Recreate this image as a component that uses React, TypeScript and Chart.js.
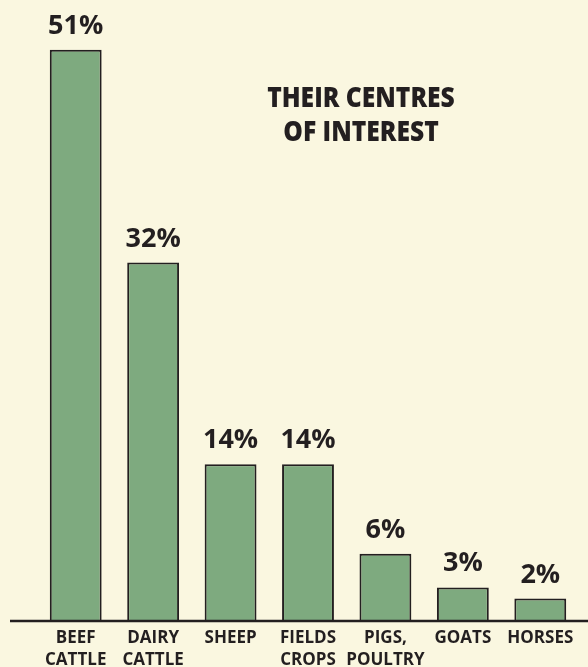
import React, { useEffect, useRef } from "react";
import { Chart, registerables } from "chart.js";

Chart.register(...registerables);

const categories: string[][] = [
  ["BEEF", "CATTLE"],
  ["DAIRY", "CATTLE"],
  ["SHEEP"],
  ["FIELDS", "CROPS"],
  ["PIGS,", "POULTRY"],
  ["GOATS"],
  ["HORSES"],
];
const values: number[] = [51, 32, 14, 14, 6, 3, 2];
const titleLines: string[] = ["THEIR CENTRES", "OF INTEREST"];

const BG = "#faf7e0";
const INK = "#231f20";
const GREEN = "#7eaa7f";

const overlay = {
  id: "overlay",
  beforeDraw(chart: any) {
    const { ctx, width, height } = chart;
    ctx.save();
    ctx.fillStyle = BG;
    ctx.fillRect(0, 0, width, height);
    ctx.restore();
  },
  afterDatasetsDraw(chart: any) {
    const { ctx, chartArea } = chart;
    ctx.save();
    // baseline
    ctx.strokeStyle = INK;
    ctx.lineWidth = 2.5;
    ctx.beginPath();
    ctx.moveTo(10, chartArea.bottom);
    ctx.lineTo(chart.width, chartArea.bottom);
    ctx.stroke();
    // value labels
    const meta = chart.getDatasetMeta(0);
    ctx.fillStyle = INK;
    ctx.font = "bold 27px 'Open Sans', sans-serif";
    ctx.textAlign = "center";
    ctx.textBaseline = "alphabetic";
    meta.data.forEach((bar: any, i: number) => {
      ctx.fillText(values[i] + "%", bar.x, bar.y - 16);
    });
    // title (condensed)
    ctx.font = "800 28px 'Open Sans', sans-serif";
    ctx.textBaseline = "alphabetic";
    const sx = 0.88;
    ctx.save();
    ctx.translate(361, 0);
    ctx.scale(sx, 1);
    ctx.fillText(titleLines[0], 0, 107);
    ctx.fillText(titleLines[1], 0, 141);
    ctx.restore();
    ctx.restore();
  },
};

export default function App() {
  const ref = useRef<HTMLCanvasElement>(null);
  useEffect(() => {
    document.body.style.margin = "0";
    document.body.style.background = BG;
    const chart = new Chart(ref.current!, {
      type: "bar",
      data: {
        labels: categories,
        datasets: [
          {
            data: values,
            backgroundColor: GREEN,
            borderColor: INK,
            borderWidth: 2,
            barPercentage: 0.67,
            categoryPercentage: 1,
          },
        ],
      },
      options: {
        animation: false,
        responsive: false,
        maintainAspectRatio: false,
        layout: { padding: { top: 5, left: 37, right: 9, bottom: 0 } },
        plugins: { legend: { display: false }, tooltip: { enabled: false } },
        scales: {
          y: { display: false, min: 0, max: 55 },
          x: {
            grid: { display: false, drawTicks: false },
            border: { display: false },
            ticks: {
              color: INK,
              padding: 6,
              maxRotation: 0,
              autoSkip: false,
              font: { family: "'Open Sans', sans-serif", weight: "bold", size: 17, lineHeight: 1.3 },
            },
            afterFit(scale: any) {
              scale.height = 46;
            },
          },
        },
      },
      plugins: [overlay],
    });
    return () => chart.destroy();
  }, []);
  return (
    <div style={{ width: 588, height: 667, background: BG }}>
      <canvas ref={ref} width={588} height={667} style={{ display: "block" }} />
    </div>
  );
}
